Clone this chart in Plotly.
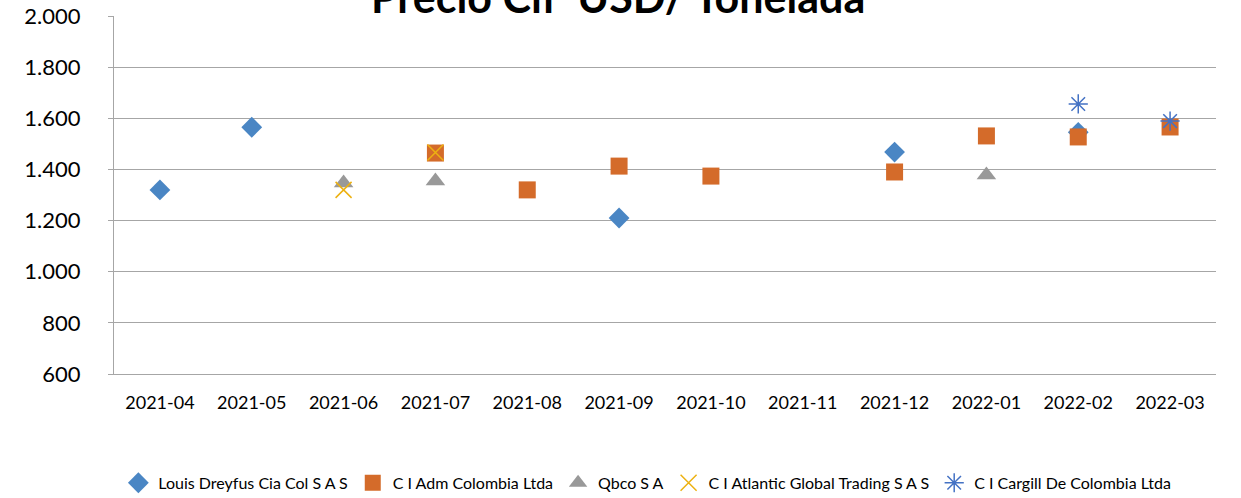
import plotly.graph_objects as go

months = ["2021-04", "2021-05", "2021-06", "2021-07", "2021-08", "2021-09",
          "2021-10", "2021-11", "2021-12", "2022-01", "2022-02", "2022-03"]

louis_x = ["2021-04", "2021-05", "2021-09", "2021-12", "2022-02"]
louis_y = [1320, 1565, 1210, 1468, 1545]

adm_x = ["2021-07", "2021-08", "2021-09", "2021-10", "2021-12", "2022-01", "2022-02", "2022-03"]
adm_y = [1464, 1320, 1413, 1374, 1390, 1531, 1527, 1566]

qbco_x = ["2021-06", "2021-07", "2022-01"]
qbco_y = [1347, 1355, 1378]

atl_x = ["2021-06", "2021-07"]
atl_y = [1320, 1466]

carg_x = ["2022-02", "2022-03"]
carg_y = [1656, 1589]

FONT = "Lato"

fig = go.Figure()
fig.add_trace(go.Scatter(x=louis_x, y=louis_y, mode="markers", name="Louis Dreyfus Cia Col S A S",
                         marker=dict(symbol="diamond", size=16, color="#4A86C4")))
fig.add_trace(go.Scatter(x=adm_x, y=adm_y, mode="markers", name="C I Adm Colombia Ltda",
                         marker=dict(symbol="square", size=17, color="#D46B2A")))
fig.add_trace(go.Scatter(x=qbco_x, y=qbco_y, mode="markers", name="Qbco S A",
                         marker=dict(symbol="triangle-up", size=17, color="#999999")))
fig.add_trace(go.Scatter(x=atl_x, y=atl_y, mode="markers", name="C I Atlantic Global Trading S A S",
                         marker=dict(symbol="x-thin-open", size=16, color="#EDB111",
                                     line=dict(width=1.5, color="#EDB111"))))
fig.add_trace(go.Scatter(x=carg_x, y=carg_y, mode="markers", name="C I Cargill De Colombia Ltda",
                         marker=dict(symbol="asterisk-open", size=16, color="#4472C4",
                                     line=dict(width=1.5, color="#4472C4"))))

fig.update_layout(
    width=1241, height=498,
    margin=dict(l=114, r=25, t=16, b=124, autoexpand=False),
    paper_bgcolor="white", plot_bgcolor="white",
    separators=",.",
    font=dict(family=FONT, color="#000000"),
    showlegend=True,
    legend=dict(orientation="h", x=0.484, xanchor="center", y=-0.304, yanchor="middle",
                font=dict(size=16, family=FONT), itemwidth=30, tracegroupgap=0),
    annotations=[dict(text="<b>Precio Cif  USD/ Tonelada</b>", xref="paper", yref="paper",
                      x=0.457, y=1.0, yanchor="middle", yshift=20, showarrow=False,
                      font=dict(size=43, family=FONT, color="#000000"))],
)
fig.update_xaxes(type="category", categoryorder="array", categoryarray=months,
                 range=[-0.5, 11.5], showgrid=False, showline=True, linecolor="#A6A6A6",
                 linewidth=1, ticks="", tickfont=dict(size=18, family=FONT), ticklabelstandoff=12,
                 automargin=False)
fig.update_yaxes(range=[600, 2000], dtick=200, tickformat=",d", showgrid=True,
                 gridcolor="#A6A6A6", gridwidth=1, showline=True, linecolor="#A6A6A6",
                 ticks="outside", ticklen=5, tickcolor="#A6A6A6", ticklabelstandoff=23,
                 ticklabeloverflow="allow",
                 tickfont=dict(size=22, family=FONT), zeroline=False, automargin=False)

fig.write_html("out.html", config={"displayModeBar": False},
               post_script="document.body.style.margin='0';document.body.style.overflow='hidden';")
